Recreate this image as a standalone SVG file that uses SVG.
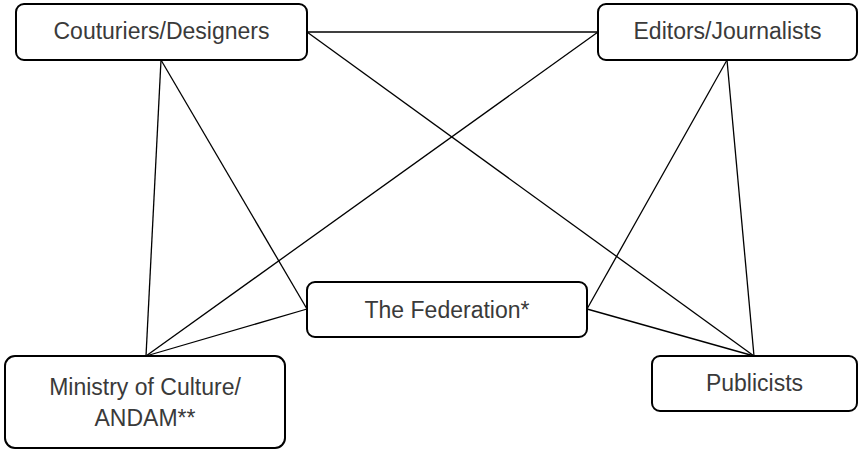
<svg xmlns="http://www.w3.org/2000/svg" width="860" height="451" viewBox="0 0 860 451">
<style>
.node rect{fill:#fff;stroke:#000;stroke-width:2}
.node text{font-family:"Liberation Sans",Arial,sans-serif;font-size:23px;fill:#3a3a3a;text-anchor:middle}
.conn line{stroke:#000;stroke-width:1.3;fill:none}
</style>
<rect width="860" height="451" fill="#fff"/>
<g id="connectors" class="conn">
<line x1="161" y1="60" x2="146" y2="356"/>
<line x1="161" y1="60" x2="307" y2="309"/>
<line x1="307" y1="32" x2="598" y2="32"/>
<line x1="307" y1="32" x2="754" y2="356"/>
<line x1="598" y1="32" x2="146" y2="356"/>
<line x1="727" y1="60" x2="587" y2="309"/>
<line x1="727" y1="60" x2="754" y2="356"/>
<line x1="307" y1="309" x2="146" y2="356"/>
<line x1="587" y1="309" x2="754" y2="356"/>
</g>
<g id="couturiers" class="node"><rect x="16" y="4" width="291" height="56" rx="8"/><text x="161.5" y="39">Couturiers/Designers</text></g>
<g id="editors" class="node"><rect x="598" y="4" width="259" height="56" rx="8"/><text x="727.5" y="39">Editors/Journalists</text></g>
<g id="federation" class="node"><rect x="307" y="282" width="280" height="55" rx="8"/><text x="447" y="318">The Federation*</text></g>
<g id="ministry" class="node"><rect x="5" y="356" width="280" height="92" rx="10"/><text x="145" y="395">Ministry of Culture/</text><text x="145" y="426">ANDAM**</text></g>
<g id="publicists" class="node"><rect x="652" y="356" width="205" height="55" rx="8"/><text x="754.5" y="391">Publicists</text></g>
</svg>
